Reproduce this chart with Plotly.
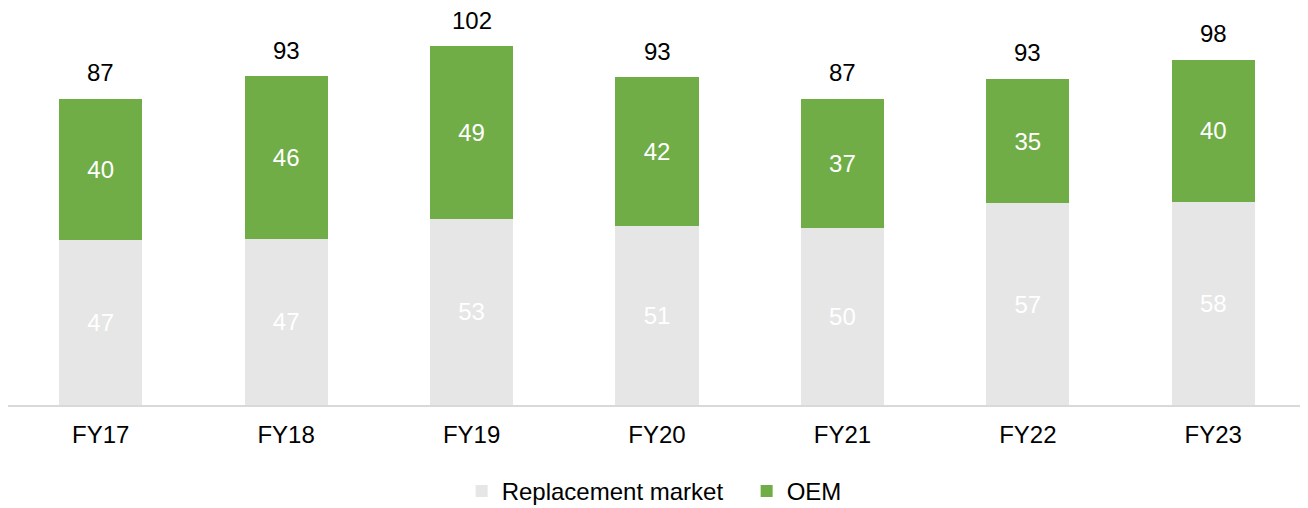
import plotly.graph_objects as go

categories = ["FY17", "FY18", "FY19", "FY20", "FY21", "FY22", "FY23"]
replacement = [47, 47.3, 52.9, 50.9, 50.3, 57.3, 57.8]
oem = [40, 46.1, 49.1, 42.2, 36.8, 35.4, 40.4]
total_labels = ["87", "93", "102", "93", "87", "93", "98"]

FONT = "Liberation Sans, Arial, sans-serif"
GRAY = "#E6E6E6"
GREEN = "#70AD47"
FS = 24

fig = go.Figure()
fig.add_trace(go.Bar(
    x=categories, y=replacement, name="Replacement market",
    marker=dict(color=GRAY, line=dict(width=0)),
    texttemplate="%{y:.0f}", textposition="inside", insidetextanchor="middle",
    textangle=0, constraintext="none",
    textfont=dict(color="white", size=FS, family=FONT),
    legendwidth=240,
))
fig.add_trace(go.Bar(
    x=categories, y=oem, name="OEM",
    marker=dict(color=GREEN, line=dict(width=0)),
    texttemplate="%{y:.0f}", textposition="inside", insidetextanchor="middle",
    textangle=0, constraintext="none",
    textfont=dict(color="white", size=FS, family=FONT),
))

for c, r, o, lab in zip(categories, replacement, oem, total_labels):
    fig.add_annotation(x=c, y=r + o, text=lab, showarrow=False,
                       yanchor="middle", yshift=26,
                       font=dict(color="black", size=FS, family=FONT))

fig.update_layout(
    barmode="stack",
    bargap=0.552,
    width=1300, height=500,
    margin=dict(l=0, r=2, t=10, b=102.5, autoexpand=False),
    plot_bgcolor="white", paper_bgcolor="white",
    font=dict(family=FONT, size=FS, color="black"),
    showlegend=True,
    legend=dict(orientation="h", x=0.3495, xanchor="left", y=-0.223, yanchor="middle",
                font=dict(size=FS, family=FONT, color="black"),
                traceorder="normal"),
    xaxis=dict(showline=True, linecolor="#D9D9D9", linewidth=2, ticks="",
               showgrid=False, tickfont=dict(size=FS, family=FONT, color="black"),
               ticklabelstandoff=7),
    yaxis=dict(range=[0, 110], visible=False, showgrid=False, zeroline=False),
)

fig.write_html("out.html")
